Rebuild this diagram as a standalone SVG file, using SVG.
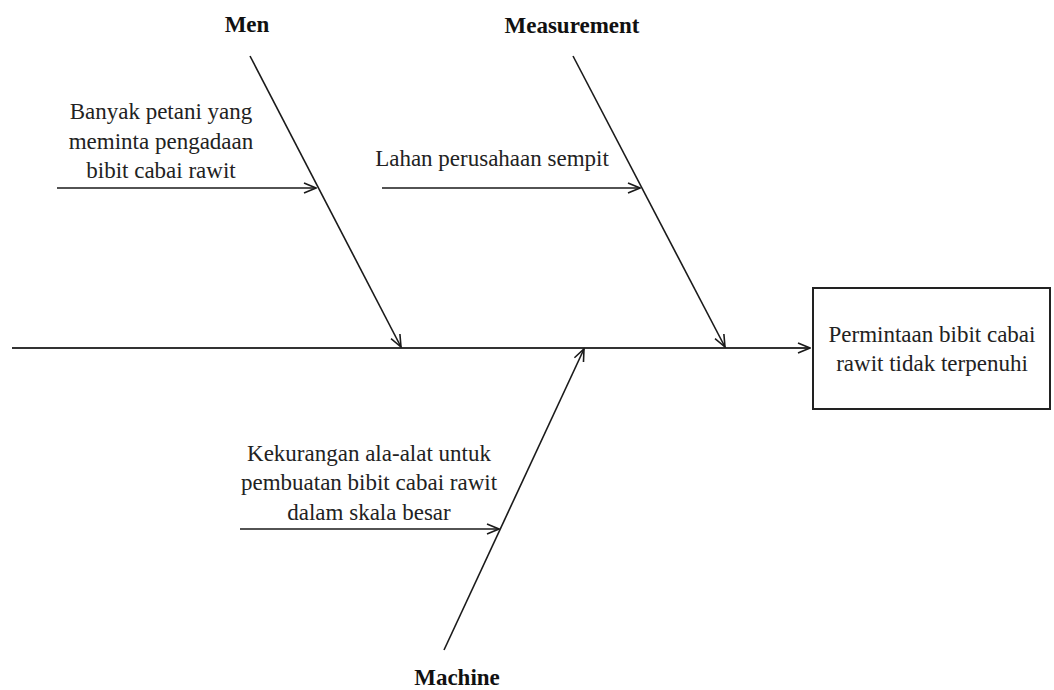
<svg xmlns="http://www.w3.org/2000/svg" width="1054" height="690" viewBox="0 0 1054 690">
  <defs>
    <marker id="arr" viewBox="0 0 14 12" refX="13" refY="6" markerWidth="14" markerHeight="12" markerUnits="userSpaceOnUse" orient="auto">
      <path d="M1,1 L13,6 L1,11" fill="none" stroke="#1a1a1a" stroke-width="1.6"/>
    </marker>
  </defs>
  <style>
    .t { font-family: "Times New Roman", "Liberation Serif", Tinos, "DejaVu Serif", serif; font-size: 23px; font-weight: normal; fill: #222; text-anchor: middle; }
    .h { font-family: "Times New Roman", "Liberation Serif", Tinos, "DejaVu Serif", serif; font-size: 23px; font-weight: bold; fill: #111; text-anchor: middle; }
    .ln { stroke: #1a1a1a; stroke-width: 1.6; fill: none; marker-end: url(#arr); }
    .spine { stroke: #333; stroke-width: 2.2; fill: none; marker-end: url(#arr); }
    .box { fill: #fff; stroke: #222; stroke-width: 2; }
  </style>
  <rect width="1054" height="690" fill="#fff"/>

  <g id="connectors">
    <line class="spine" x1="12" y1="348" x2="810" y2="348"/>
    <line class="ln" x1="250" y1="56" x2="401" y2="347"/>
    <line class="ln" x1="573" y1="56" x2="725" y2="347"/>
    <line class="ln" x1="444" y1="650" x2="584" y2="349"/>
    <line class="ln" x1="57" y1="188" x2="316" y2="188"/>
    <line class="ln" x1="382" y1="188" x2="640" y2="188"/>
    <line class="ln" x1="240" y1="529" x2="499" y2="529"/>
  </g>

  <g id="effect">
    <rect class="box" x="813" y="288" width="237" height="121"/>
    <text class="t" x="932" y="342">Permintaan bibit cabai</text>
    <text class="t" x="932" y="371">rawit tidak terpenuhi</text>
  </g>

  <g id="men">
    <text class="h" x="247" y="32">Men</text>
  </g>
  <g id="men-cause">
    <text class="t" x="161" y="119">Banyak petani yang</text>
    <text class="t" x="161" y="149">meminta pengadaan</text>
    <text class="t" x="161" y="178">bibit cabai rawit</text>
  </g>

  <g id="measurement">
    <text class="h" x="572" y="33">Measurement</text>
  </g>
  <g id="measurement-cause">
    <text class="t" x="492" y="166">Lahan perusahaan sempit</text>
  </g>

  <g id="machine">
    <text class="h" x="457" y="685">Machine</text>
  </g>
  <g id="machine-cause">
    <text class="t" x="369" y="461">Kekurangan ala-alat untuk</text>
    <text class="t" x="369" y="490">pembuatan bibit cabai rawit</text>
    <text class="t" x="369" y="520">dalam skala besar</text>
  </g>
</svg>
